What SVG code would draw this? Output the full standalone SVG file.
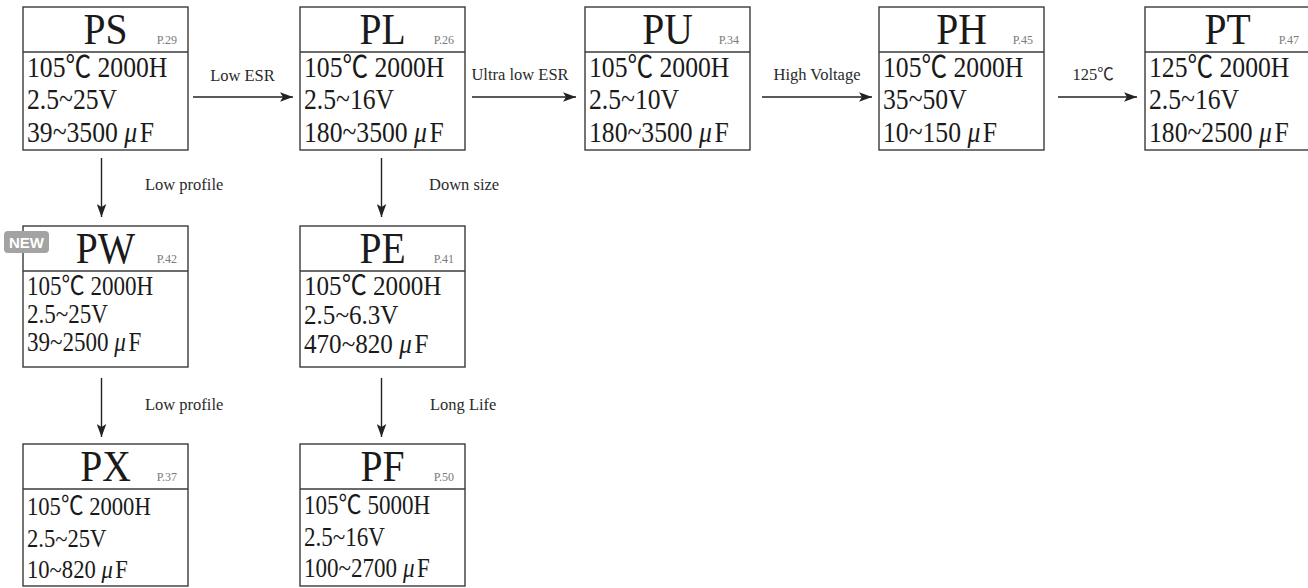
<svg xmlns="http://www.w3.org/2000/svg" width="1308" height="588" viewBox="0 0 1308 588">
<style>
.box{fill:#fff;stroke:#3a3a3a;stroke-width:1.4}
.div{stroke:#3a3a3a;stroke-width:1.4}
.title{font-family:"Liberation Serif","Noto Sans CJK JP",serif;font-size:44px;fill:#1a1a1a;text-anchor:middle}
.page{font-family:"Liberation Serif",serif;font-size:12px;fill:#7a7a7a;text-anchor:end}
.body{font-family:"Liberation Serif","Noto Sans CJK JP",serif;fill:#1a1a1a}
.lbl{font-family:"Liberation Serif","Noto Sans CJK JP",serif;font-size:16.5px;fill:#2a2a2a}
.mid{text-anchor:middle}
.conn{stroke:#222;stroke-width:1.4;fill:none;marker-end:url(#ah)}
.mu{font-style:italic}
</style>
<defs>
<marker id="ah" markerUnits="userSpaceOnUse" markerWidth="14" markerHeight="10" viewBox="0 -5 14 10" refX="13" refY="0" orient="auto">
<path d="M0,-4.8 L13,0 L0,4.8 L3,0 z" fill="#222"/>
</marker>
</defs>

<g id="connectors">
<line class="conn" x1="193" y1="97" x2="293" y2="97"/>
<line class="conn" x1="472" y1="97" x2="576" y2="97"/>
<line class="conn" x1="762" y1="97" x2="872" y2="97"/>
<line class="conn" x1="1058" y1="97" x2="1137" y2="97"/>
<line class="conn" x1="101.5" y1="158" x2="101.5" y2="217"/>
<line class="conn" x1="381.5" y1="158" x2="381.5" y2="217"/>
<line class="conn" x1="101.5" y1="378" x2="101.5" y2="437"/>
<line class="conn" x1="381.5" y1="378" x2="381.5" y2="437"/>
<text class="lbl mid" x="242.5" y="81">Low ESR</text>
<text class="lbl mid" x="520" y="80">Ultra low ESR</text>
<text class="lbl mid" x="817" y="80">High Voltage</text>
<text class="lbl mid" x="1093" y="80">125℃</text>
<text class="lbl" x="145" y="190">Low profile</text>
<text class="lbl" x="429" y="190">Down size</text>
<text class="lbl" x="145" y="410">Low profile</text>
<text class="lbl" x="430" y="410">Long Life</text>
</g>

<g id="node-PS">
<rect class="box" x="23" y="7" width="165" height="143"/>
<line class="div" x1="23" y1="52" x2="188" y2="52"/>
<text class="title" transform="translate(105.5,44) scale(0.9,1)">PS</text>
<text class="page" x="177" y="44">P.29</text>
<g class="body" font-size="29.5" transform="translate(27,0) scale(0.87,1)">
<text y="77">105℃ 2000H</text>
<text y="109.5">2.5~25V</text>
<text y="142">39~3500 <tspan class="mu">μ</tspan><tspan dx="3">F</tspan></text>
</g>
</g>

<g id="node-PL">
<rect class="box" x="300" y="7" width="165" height="143"/>
<line class="div" x1="300" y1="52" x2="465" y2="52"/>
<text class="title" transform="translate(382.5,44) scale(0.9,1)">PL</text>
<text class="page" x="454" y="44">P.26</text>
<g class="body" font-size="29.5" transform="translate(304,0) scale(0.87,1)">
<text y="77">105℃ 2000H</text>
<text y="109.5">2.5~16V</text>
<text y="142">180~3500 <tspan class="mu">μ</tspan><tspan dx="3">F</tspan></text>
</g>
</g>

<g id="node-PU">
<rect class="box" x="585" y="7" width="165" height="143"/>
<line class="div" x1="585" y1="52" x2="750" y2="52"/>
<text class="title" transform="translate(667.5,44) scale(0.9,1)">PU</text>
<text class="page" x="739" y="44">P.34</text>
<g class="body" font-size="29.5" transform="translate(589,0) scale(0.87,1)">
<text y="77">105℃ 2000H</text>
<text y="109.5">2.5~10V</text>
<text y="142">180~3500 <tspan class="mu">μ</tspan><tspan dx="3">F</tspan></text>
</g>
</g>

<g id="node-PH">
<rect class="box" x="879" y="7" width="165" height="143"/>
<line class="div" x1="879" y1="52" x2="1044" y2="52"/>
<text class="title" transform="translate(961.5,44) scale(0.9,1)">PH</text>
<text class="page" x="1033" y="44">P.45</text>
<g class="body" font-size="29.5" transform="translate(883,0) scale(0.87,1)">
<text y="77">105℃ 2000H</text>
<text y="109.5">35~50V</text>
<text y="142">10~150 <tspan class="mu">μ</tspan><tspan dx="3">F</tspan></text>
</g>
</g>

<g id="node-PT">
<rect class="box" x="1145" y="7" width="165" height="143"/>
<line class="div" x1="1145" y1="52" x2="1310" y2="52"/>
<text class="title" transform="translate(1227.5,44) scale(0.9,1)">PT</text>
<text class="page" x="1299" y="44">P.47</text>
<g class="body" font-size="29.5" transform="translate(1149,0) scale(0.87,1)">
<text y="77">125℃ 2000H</text>
<text y="109.5">2.5~16V</text>
<text y="142">180~2500 <tspan class="mu">μ</tspan><tspan dx="3">F</tspan></text>
</g>
</g>

<g id="node-PW">
<rect class="box" x="23" y="226" width="165" height="141"/>
<line class="div" x1="23" y1="271" x2="188" y2="271"/>
<text class="title" transform="translate(105.5,263) scale(0.9,1)">PW</text>
<text class="page" x="177" y="263">P.42</text>
<g class="body" font-size="26.5" transform="translate(27,0) scale(0.87,1)">
<text y="295">105℃ 2000H</text>
<text y="323">2.5~25V</text>
<text y="351">39~2500 <tspan class="mu">μ</tspan><tspan dx="3">F</tspan></text>
</g>
<rect x="4" y="231" width="45" height="22" rx="4" fill="#a3a3a3"/>
<text x="26.5" y="248" font-family="Liberation Sans, Arial, sans-serif" font-weight="bold" font-size="15" fill="#fff" text-anchor="middle">NEW</text>
</g>

<g id="node-PE">
<rect class="box" x="300" y="226" width="165" height="141"/>
<line class="div" x1="300" y1="271" x2="465" y2="271"/>
<text class="title" transform="translate(382.5,263) scale(0.9,1)">PE</text>
<text class="page" x="454" y="263">P.41</text>
<g class="body" font-size="27" transform="translate(304,0) scale(0.93,1)">
<text y="295">105℃ 2000H</text>
<text y="324">2.5~6.3V</text>
<text y="353">470~820 <tspan class="mu">μ</tspan><tspan dx="3">F</tspan></text>
</g>
</g>

<g id="node-PX">
<rect class="box" x="23" y="444" width="165" height="142"/>
<line class="div" x1="23" y1="489" x2="188" y2="489"/>
<text class="title" transform="translate(105.5,481) scale(0.9,1)">PX</text>
<text class="page" x="177" y="481">P.37</text>
<g class="body" font-size="26" transform="translate(27,0) scale(0.87,1)">
<text y="515">105℃ 2000H</text>
<text y="547">2.5~25V</text>
<text y="578">10~820 <tspan class="mu">μ</tspan><tspan dx="3">F</tspan></text>
</g>
</g>

<g id="node-PF">
<rect class="box" x="300" y="444" width="165" height="142"/>
<line class="div" x1="300" y1="489" x2="465" y2="489"/>
<text class="title" transform="translate(382.5,481) scale(0.9,1)">PF</text>
<text class="page" x="454" y="481">P.50</text>
<g class="body" font-size="26.5" transform="translate(304,0) scale(0.87,1)">
<text y="514">105℃ 5000H</text>
<text y="546">2.5~16V</text>
<text y="577">100~2700 <tspan class="mu">μ</tspan><tspan dx="3">F</tspan></text>
</g>
</g>
</svg>
